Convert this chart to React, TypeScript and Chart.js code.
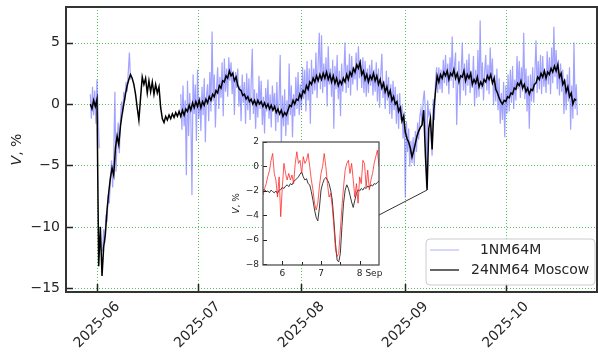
import React, { useEffect, useRef } from 'react';
import { Chart, registerables } from 'chart.js';

Chart.register(...registerables);

const FONT = '"DejaVu Sans", "Liberation Sans", sans-serif';

// x values are days since 2025-06-01
const monthTickDays = [0, 30, 61, 92, 122];
const monthTickLabels = ['2025-06', '2025-07', '2025-08', '2025-09', '2025-10'];
const yTickValues = [-15, -10, -5, 0, 5];
const seriesNames = ['  1NM64M', '24NM64 Moscow'];

// 24NM64 Moscow, every 12 h from 2025-05-30
const moscowStartDay = -2;
const moscowStepDays = 0.5;
const moscowValues = [
  0.0, -0.4, 0.3, -0.2, 0.4, -13.2, -10.0, -14.0, -11.6, -10.6,
  -8.6, -7.2, -6.0, -5.2, -5.8, -3.6, -2.6, -3.3, -1.8, -0.8,
  0.0, 0.8, 1.5, 2.0, 2.4, 2.1, 1.6, 0.8, -0.3, -1.3,
  0.5, 2.2, 1.6, 2.1, 0.9, 1.9, 1.0, 1.8, 0.8, 1.6,
  0.9, 1.4, -0.3, -1.2, -1.5, -1.0, -1.3, -0.9, -1.2, -0.8,
  -1.1, -0.7, -1.0, -0.6, -1.0, -0.5, -0.9, -0.4, -0.6, -0.1,
  -0.5, 0.1, -0.3, 0.2, -0.2, 0.3, -0.3, 0.2, -0.1, 0.4,
  0.1, 0.6, 0.3, 0.8, 0.6, 1.1, 0.9, 1.5, 1.3, 1.9,
  1.8, 2.3, 2.1, 2.7, 2.3, 2.5, 1.9, 2.2, 1.5, 1.2,
  1.1, 0.7, 0.8, 0.4, 0.6, 0.2, 0.4, 0.0, 0.3, -0.1,
  0.3, 0.0, 0.2, -0.2, 0.1, -0.3, 0.0, -0.4, -0.1, -0.5,
  -0.2, -0.7, -0.4, -0.8, -0.5, -1.0, -0.7, -0.9, -0.5, -0.1,
  -0.2, 0.3, 0.0, 0.4, 0.3, 0.8, 0.5, 1.1, 0.9, 1.5,
  1.2, 1.8, 1.6, 2.1, 1.8, 2.3, 1.9, 2.4, 2.0, 2.5,
  2.1, 2.6, 2.0, 2.4, 1.8, 2.3, 1.7, 2.1, 1.5, 1.9,
  1.6, 2.1, 1.8, 2.4, 2.0, 2.6, 2.3, 2.9, 2.6, 3.2,
  2.9, 3.4, 2.4, 2.7, 2.0, 2.4, 1.8, 2.3, 2.0, 2.5,
  1.9, 2.3, 1.6, 2.0, 1.3, 1.7, 1.0, 1.4, 0.7, 1.1,
  0.3, 0.6, 0.0, 0.2, -0.6, -0.3, -1.4, -1.0, -2.3, -2.8,
  -3.1, -3.6, -4.3, -3.8, -3.2, -2.6, -2.2, -1.9, -1.7, -0.5,
  -4.2, -7.0, -2.0, -1.2, -3.7, -0.5, 1.0, 2.3, 1.8, 2.4,
  2.1, 2.6, 2.3, 2.7, 2.0, 2.5, 2.3, 2.8, 2.1, 2.5,
  1.8, 2.3, 2.2, 2.7, 1.9, 2.4, 2.1, 2.5, 1.6, 2.0,
  1.7, 2.2, 1.4, 1.8, 1.5, 2.0, 1.8, 2.3, 2.0, 2.4,
  1.7, 2.1, 1.2, 0.9, 0.5, 0.2, 0.0, 0.3, 0.2, 0.6,
  0.5, 0.9, 0.8, 1.3, 1.2, 1.7, 1.5, 1.9, 1.3, 1.6,
  1.0, 1.3, 0.8, 1.2, 1.1, 1.6, 1.7, 2.2, 2.0, 2.5,
  2.2, 2.7, 2.1, 2.6, 2.4, 2.9, 2.6, 3.1, 2.7, 3.2,
  2.2, 2.5, 1.6, 1.9, 1.0, 1.4, 0.6, 0.9, 0.0, 0.4,
  0.3,
];

// 1NM64M, every 8 h, three stretches of data
const nmStepDays = 1 / 3;
const nmEarlyStart = -2;
const nmEarly = [0.8, -1.2, 1.4, -0.9, 1.1, -1.6, 2.0, -0.8, -3.6];
const nmRecoveryStart = 5 / 3;
const nmRecovery = [
  -12.0, -10.2, -11.3, -9.0, -9.6, -7.4, -8.1, -6.3, -4.6, -6.8,
  -4.2, 1.0, -5.5, -2.8, -1.5, -4.0, -1.2, 0.2, -0.8, 1.0,
  0.3, 1.8, 1.0, 2.6, 4.2, 2.0,
];
const nmMainStart = 25;
const nmMain = [
  0.8, -2.1, 1.5, -1.8, 0.3, -5.8, 1.9, -2.6, 0.9, -1.0, -7.4, 2.4,
  -0.8, 1.6, -3.0, 2.8, -1.2, 0.6, -2.2, 1.4, -0.9, 2.1, -3.1, 0.7,
  1.6, -1.4, 2.6, -0.6, 5.9, 0.2, 2.4, -1.9, 1.2, 3.0, -0.4, 2.2,
  0.5, 3.4, -1.0, 3.7, 1.0, 2.9, 0.6, 3.8, 1.9, 3.4, 0.8, 2.7,
  -0.9, 2.6, 1.3, 2.9, -0.2, 1.5, -1.4, 2.4, 0.1, 1.8, -1.6, 2.5,
  -0.5, 2.1, -1.3, 1.6, 4.5, -0.8, 1.2, -2.0, 0.9, -1.1, 2.3, -0.4,
  1.9, -1.7, 0.6, -2.4, 1.3, -0.6, 2.0, -1.2, 0.8, -1.9, 1.5, -0.3,
  0.9, -2.2, 1.8, -1.5, 0.4, 4.0, -3.5, 0.7, -1.8, 1.2, -2.6, 0.3,
  -1.7, 3.3, -0.9, 1.5, -2.7, 0.8, -1.0, 2.2, -0.4, 2.6, -0.9, 1.6,
  -0.5, 3.0, 0.4, 2.8, -0.6, 3.5, 0.3, 2.9, -1.6, 3.6, 0.8, 2.9,
  1.1, 4.2, 0.5, 3.4, 5.8, 1.2, 5.6, 0.9, 3.3, 1.4, 3.8, -0.2,
  4.7, 1.6, 2.9, 0.6, 3.6, -2.0, 3.1, 1.2, 4.0, 0.4, 2.7, -1.0,
  3.3, 1.0, 2.4, 5.0, 0.9, 3.2, 1.3, 4.1, 0.7, 3.9, 1.6, 3.0,
  2.0, 4.2, 1.1, 4.7, 2.1, 3.6, 1.3, 3.8, 0.9, 3.5, 0.6, 2.9,
  0.9, 3.2, 1.5, 3.6, 0.7, 2.8, 1.0, 3.4, 0.2, 2.9, -0.3, 2.4,
  4.1, 0.5, 1.9, -0.4, 2.7, 0.3, 2.2, -0.8, 1.6, -1.2, 1.9, -0.5,
  1.4, -1.6, 0.8, -2.0, 0.9, -1.3, -0.1, -2.8, -0.6, -7.6, -1.4, -3.9,
  -2.0, -5.1, -3.0, -4.8, -2.7, -5.0, -2.2, -3.9, -1.5, -2.9, -1.0, -0.4,
  -1.7, 0.3, 1.1, -0.6, -6.8, 0.3, -0.9, -0.6, -2.6, -4.2, 0.4, -1.3,
  1.8, 3.0, 0.9, 3.0, 1.2, 2.8, 0.9, 3.6, 1.7, 4.0, 1.5, 3.3,
  0.8, 3.8, 1.9, 5.5, 1.3, 3.1, 4.2, -1.7, 1.8, 3.5, -0.1, 2.6,
  5.0, 1.1, 3.3, 0.7, 3.6, 1.5, 4.1, 0.9, 2.7, 1.3, 3.9, -0.2,
  2.8, 0.5, 4.4, 0.6, 6.8, 1.2, 3.4, 0.3, 2.6, 4.0, 1.1, 3.2,
  0.8, 4.6, 1.9, 3.7, -0.1, 2.4, 0.2, 2.9, -0.5, 2.1, -1.6, 0.9,
  -1.3, 1.8, -2.7, 1.5, -0.8, 2.4, -0.6, 2.8, 0.1, 3.1, -0.4, 2.0,
  0.3, 3.9, 1.2, 3.5, 0.5, 3.0, 1.0, 5.8, 0.4, 2.9, -0.6, 2.3,
  -2.0, 2.4, 0.2, 3.0, 0.1, 2.6, 5.2, 0.9, 3.5, 1.2, 4.0, 0.8,
  3.9, 1.4, 2.7, 0.9, 4.3, 1.6, 3.8, 0.8, 4.6, 1.7, 6.3, 2.2,
  4.4, 1.2, 3.6, 0.7, 3.3, 1.0, 2.8, -0.8, 2.0, -0.5, 2.4, 0.2,
  3.0, -2.1, 1.5, -1.2, 5.0, -0.4, 1.6, -0.9,
];

// Inset: hourly values, 2025-09-05 12:00 to 2025-09-08 12:00
const insetStartDay = 96.5;
const insetStepDays = 1 / 24;
const insetNm = [
  -2.34, -1.8, -1.4, -0.8, -0.35, 0.5, 1.06, -0.57, -1.1, -2.5,
  -0.85, -4.1, -1.66, 0.25, -0.57, -1.1, -0.57, -1.1, -0.7, -1.4,
  0.25, 1.2, 0.25, 0.5, -0.57, 0.8, 0.25, 0.5, 1.06, 0,
  -1.1, -1.9, -3.0, -3.56, -3.0, -1.66, -0.57, 0, 1.06, 0,
  -1.4, -2.5, -2.2, -3.3, -4.9, -6.8, -7.36, -7.1, -5.2, -3.3,
  -1.66, -0.3, 0.25, 0.5, -0.57, 0.25, -1.1, -2.5, -1.4, -3.0,
  -0.85, -1.4, 0.5, 0.25, -1.66, -0.3, -1.9, -1.1, -0.57, 0.25,
  0.8, 1.33, 0,
];
const insetMoscow = [
  -1.93, -1.9, -2.05, -2.0, -2.15, -1.93, -2.05, -2.15, -2.0, -2.2,
  -1.93, -1.9, -1.7, -1.8, -1.6, -1.5, -1.65, -1.4, -1.5, -1.25,
  -1.1, -1.0, -0.85, -0.62, -0.45, -0.85, -1.1, -1.0, -1.4, -1.5,
  -2.05, -2.75, -3.55, -4.15, -4.45, -3.4, -1.93, -1.4, -1.05, -0.9,
  -1.1, -1.4, -1.93, -2.75, -4.4, -6.3, -7.65, -7.8, -7.1, -4.9,
  -3.0, -1.93, -1.5, -1.8, -2.35, -2.9, -3.35, -2.75, -2.2, -1.9,
  -2.0, -1.8, -1.93, -1.7, -1.8, -1.6, -1.7, -1.5, -1.6, -1.4,
  -1.45, -1.3, -1.2,
];
const insetTickDays = [97, 98, 99];
const insetTickLabels = ['6', '7', '8 Sep'];
const insetMinorDays = [97.5, 98.5];
const insetYTicks = [-8, -6, -4, -2, 0, 2];
const dipDay = 98.5;

// layout
const W = 598;
const H = 356;
const INSET = { left: 226, top: 136, width: 158, height: 148, padL: 37, padT: 6, padR: 5, padB: 19 };

const NM_COLOR = 'rgba(85, 85, 255, 0.55)';
const GRID_COLOR = 'rgba(80, 190, 80, 0.95)';
const TEXT_COLOR = '#262626';

function series(start: number, step: number, values: number[]) {
  return values.map((v, i) => ({ x: start + i * step, y: v }));
}

function fmt(v: number) {
  return v < 0 ? '\u2212' + Math.abs(v) : String(v);
}

function drawVTitle(ctx: CanvasRenderingContext2D, cx: number, cy: number, size: number) {
  ctx.save();
  ctx.translate(cx, cy);
  ctx.rotate(-Math.PI / 2);
  ctx.fillStyle = TEXT_COLOR;
  ctx.textBaseline = 'middle';
  ctx.textAlign = 'left';
  const fItal = `italic ${size}px ${FONT}`;
  const fNorm = `${size}px ${FONT}`;
  ctx.font = fItal;
  const w1 = ctx.measureText('V').width;
  ctx.font = fNorm;
  const w2 = ctx.measureText(', %').width;
  const x0 = -(w1 + w2) / 2;
  ctx.font = fItal;
  ctx.fillText('V', x0, 0);
  ctx.font = fNorm;
  ctx.fillText(', %', x0 + w1, 0);
  ctx.restore();
}

const mainDecor = {
  id: 'mainDecor',
  beforeDatasetsDraw(chart: any) {
    const { ctx, chartArea: a, scales } = chart;
    const x = scales.x;
    const y = scales.y;
    ctx.save();
    ctx.strokeStyle = GRID_COLOR;
    ctx.lineWidth = 1;
    ctx.setLineDash([1, 2]);
    for (const v of yTickValues) {
      const py = Math.round(y.getPixelForValue(v)) + 0.5;
      ctx.beginPath();
      ctx.moveTo(a.left, py);
      ctx.lineTo(a.right, py);
      ctx.stroke();
    }
    for (const d of monthTickDays) {
      const px = Math.round(x.getPixelForValue(d)) + 0.5;
      ctx.beginPath();
      ctx.moveTo(px, a.top);
      ctx.lineTo(px, a.bottom);
      ctx.stroke();
    }
    ctx.restore();
  },
  afterDraw(chart: any) {
    const { ctx, chartArea: a, scales } = chart;
    const x = scales.x;
    const y = scales.y;
    ctx.save();
    // connector from inset to the dip in the main series
    const dipIdx = Math.round((dipDay - moscowStartDay) / moscowStepDays);
    const dx = x.getPixelForValue(dipDay);
    const dy = y.getPixelForValue(moscowValues[dipIdx]);
    ctx.strokeStyle = '#333';
    ctx.lineWidth = 1;
    ctx.beginPath();
    ctx.moveTo(INSET.left + INSET.width - INSET.padR, INSET.top + 79);
    ctx.lineTo(dx, dy);
    ctx.stroke();

    // inward ticks
    ctx.strokeStyle = '#222';
    ctx.lineWidth = 1.5;
    for (const v of yTickValues) {
      const py = Math.round(y.getPixelForValue(v)) + 0.5;
      ctx.beginPath();
      ctx.moveTo(a.left, py);
      ctx.lineTo(a.left + 7, py);
      ctx.stroke();
    }
    for (const d of monthTickDays) {
      const px = Math.round(x.getPixelForValue(d)) + 0.5;
      ctx.beginPath();
      ctx.moveTo(px, a.bottom);
      ctx.lineTo(px, a.bottom - 8);
      ctx.stroke();
    }
    // frame
    ctx.strokeStyle = '#333';
    ctx.lineWidth = 2;
    ctx.strokeRect(a.left, a.top, a.right - a.left, a.bottom - a.top);

    // tick labels
    ctx.fillStyle = TEXT_COLOR;
    ctx.font = `14px ${FONT}`;
    ctx.textAlign = 'right';
    ctx.textBaseline = 'middle';
    for (const v of yTickValues) {
      ctx.fillText(fmt(v), a.left - 6, y.getPixelForValue(v));
    }
    monthTickDays.forEach((d, i) => {
      ctx.save();
      ctx.translate(x.getPixelForValue(d), a.bottom + 33);
      ctx.rotate(-Math.PI / 4);
      ctx.textAlign = 'center';
      ctx.textBaseline = 'middle';
      ctx.fillText(monthTickLabels[i], 0, 0);
      ctx.restore();
    });
    drawVTitle(ctx, 17, (a.top + a.bottom) / 2, 14);

    // legend
    const lw = 169;
    const lh = 46;
    const lx = a.right - 2 - lw;
    const ly = a.bottom - 7 - lh;
    ctx.beginPath();
    ctx.roundRect(lx, ly, lw, lh, 4);
    ctx.fillStyle = 'rgba(255,255,255,0.85)';
    ctx.fill();
    ctx.strokeStyle = '#cccccc';
    ctx.lineWidth = 1;
    ctx.stroke();
    const colors = ['rgba(85, 85, 255, 0.4)', '#000'];
    seriesNames.forEach((name, i) => {
      const ry = ly + 11 + i * 20;
      ctx.strokeStyle = colors[i];
      ctx.lineWidth = 1.2;
      ctx.beginPath();
      ctx.moveTo(lx + 4, ry);
      ctx.lineTo(lx + 33, ry);
      ctx.stroke();
      ctx.fillStyle = TEXT_COLOR;
      ctx.font = `14px ${FONT}`;
      ctx.textAlign = 'left';
      ctx.textBaseline = 'middle';
      ctx.fillText(name, lx + 45, ry);
    });
    ctx.restore();
  },
};

const insetDecor = {
  id: 'insetDecor',
  beforeDraw(chart: any) {
    const { ctx, chartArea: a } = chart;
    ctx.save();
    ctx.fillStyle = '#fff';
    ctx.fillRect(a.left, a.top, a.right - a.left, a.bottom - a.top);
    ctx.restore();
  },
  afterDraw(chart: any) {
    const { ctx, chartArea: a, scales } = chart;
    const x = scales.x;
    const y = scales.y;
    ctx.save();
    ctx.strokeStyle = '#222';
    ctx.lineWidth = 1;
    for (const v of insetYTicks) {
      const py = Math.round(y.getPixelForValue(v)) + 0.5;
      ctx.beginPath();
      ctx.moveTo(a.left, py);
      ctx.lineTo(a.left + 4, py);
      ctx.stroke();
    }
    for (const d of insetTickDays) {
      const px = Math.round(x.getPixelForValue(d)) + 0.5;
      ctx.beginPath();
      ctx.moveTo(px, a.bottom);
      ctx.lineTo(px, a.bottom - 4);
      ctx.stroke();
    }
    for (const d of insetMinorDays) {
      const px = Math.round(x.getPixelForValue(d)) + 0.5;
      ctx.beginPath();
      ctx.moveTo(px, a.bottom);
      ctx.lineTo(px, a.bottom - 3);
      ctx.stroke();
    }
    ctx.strokeStyle = '#444';
    ctx.lineWidth = 1.2;
    ctx.strokeRect(a.left, a.top, a.right - a.left, a.bottom - a.top);

    ctx.fillStyle = TEXT_COLOR;
    ctx.font = `9px ${FONT}`;
    ctx.textAlign = 'right';
    ctx.textBaseline = 'middle';
    for (const v of insetYTicks) {
      ctx.fillText(fmt(v), a.left - 4, y.getPixelForValue(v));
    }
    ctx.textBaseline = 'top';
    insetTickDays.forEach((d, i) => {
      const px = x.getPixelForValue(d);
      const label = insetTickLabels[i];
      if (label.length > 1) {
        ctx.textAlign = 'left';
        const w0 = ctx.measureText(label[0]).width;
        ctx.fillText(label, px - w0 / 2, a.bottom + 4);
      } else {
        ctx.textAlign = 'center';
        ctx.fillText(label, px, a.bottom + 4);
      }
    });
    drawVTitle(ctx, 11, (a.top + a.bottom) / 2, 9);
    ctx.restore();
  },
};

export default function App() {
  const mainRef = useRef<HTMLCanvasElement | null>(null);
  const insetRef = useRef<HTMLCanvasElement | null>(null);

  useEffect(() => {
    if (!mainRef.current || !insetRef.current) return;
    const gap = (d: number) => ({ x: d, y: null as any });
    const nmData = [
      ...series(nmEarlyStart, nmStepDays, nmEarly),
      gap(nmEarlyStart + nmEarly.length * nmStepDays),
      ...series(nmRecoveryStart, nmStepDays, nmRecovery),
      gap(nmRecoveryStart + nmRecovery.length * nmStepDays),
      ...series(nmMainStart, nmStepDays, nmMain),
    ];
    const main = new Chart(mainRef.current, {
      type: 'line',
      data: {
        datasets: [
          {
            label: seriesNames[1],
            data: series(moscowStartDay, moscowStepDays, moscowValues),
            borderColor: '#000',
            borderWidth: 1.5,
            pointRadius: 0,
            order: 0,
          },
          {
            label: seriesNames[0],
            data: nmData,
            borderColor: NM_COLOR,
            borderWidth: 1.2,
            pointRadius: 0,
            spanGaps: false,
            order: 1,
          },
        ],
      },
      options: {
        animation: false,
        responsive: false,
        devicePixelRatio: 1,
        layout: { padding: { left: 66, top: 7, right: 1, bottom: 64 } },
        plugins: { legend: { display: false }, tooltip: { enabled: false } },
        scales: {
          x: { type: 'linear', display: false, min: -9.25, max: 149.2 },
          y: { type: 'linear', display: false, min: -15.3, max: 7.9 },
        },
      },
      plugins: [mainDecor],
    });

    const inset = new Chart(insetRef.current, {
      type: 'line',
      data: {
        datasets: [
          {
            label: seriesNames[0],
            data: series(insetStartDay, insetStepDays, insetNm),
            borderColor: 'rgba(255, 30, 30, 0.75)',
            borderWidth: 1,
            pointRadius: 0,
            order: 0,
          },
          {
            label: seriesNames[1],
            data: series(insetStartDay, insetStepDays, insetMoscow),
            borderColor: '#3a3a3a',
            borderWidth: 1,
            pointRadius: 0,
            order: 1,
          },
        ],
      },
      options: {
        animation: false,
        responsive: false,
        devicePixelRatio: 1,
        layout: { padding: { left: INSET.padL, top: INSET.padT, right: INSET.padR, bottom: INSET.padB } },
        plugins: { legend: { display: false }, tooltip: { enabled: false } },
        scales: {
          x: { type: 'linear', display: false, min: 96.5, max: 99.5 },
          y: { type: 'linear', display: false, min: -8.05, max: 2.0 },
        },
      },
      plugins: [insetDecor],
    });

    return () => {
      main.destroy();
      inset.destroy();
    };
  }, []);

  return (
    <div style={{ position: 'absolute', left: 0, top: 0, width: W, height: H, background: '#fff' }}>
      <canvas ref={mainRef} width={W} height={H} style={{ position: 'absolute', left: 0, top: 0, width: W, height: H }} />
      <canvas
        ref={insetRef}
        width={INSET.width}
        height={INSET.height}
        style={{ position: 'absolute', left: INSET.left, top: INSET.top, width: INSET.width, height: INSET.height }}
      />
    </div>
  );
}
